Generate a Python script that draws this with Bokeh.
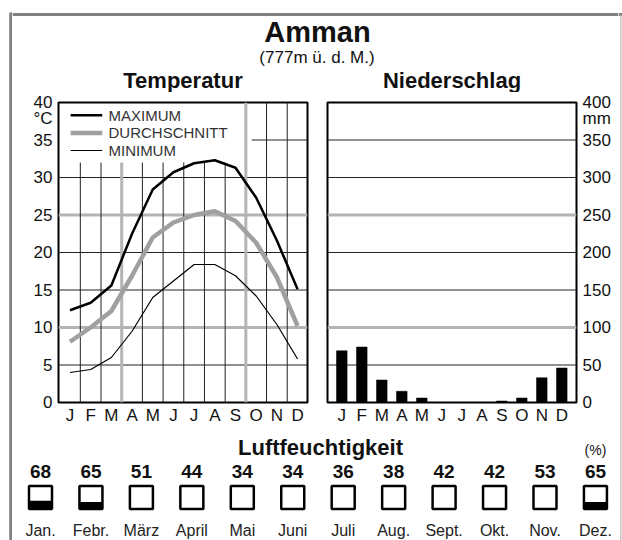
from bokeh.plotting import figure
from bokeh.layouts import row, column
from bokeh.models import Range1d, FixedTicker, LinearAxis
from bokeh.embed import file_html
from bokeh.resources import INLINE
from bokeh.core.properties import value

# ---------------- data ----------------
months_short = ["J", "F", "M", "A", "M", "J", "J", "A", "S", "O", "N", "D"]
months_long = ["Jan.", "Febr.", "März", "April", "Mai", "Juni", "Juli", "Aug.", "Sept.", "Okt.", "Nov.", "Dez."]
t_max = [12.3, 13.3, 15.6, 22.5, 28.4, 30.7, 31.9, 32.3, 31.3, 27.3, 21.6, 15.1]
t_avg = [8.1, 10.0, 12.2, 16.9, 22.0, 24.0, 25.0, 25.5, 24.2, 21.3, 16.7, 10.2]
t_min = [4.0, 4.4, 6.0, 9.5, 14.0, 16.2, 18.4, 18.4, 16.9, 14.2, 10.4, 5.8]
precip = [69, 74, 30, 15, 6, 0, 0, 0, 2, 6, 33, 46]
humidity = [68, 65, 51, 44, 34, 34, 36, 38, 42, 42, 53, 65]
temp_ticks = [0, 5, 10, 15, 20, 25, 30, 35, 40]
precip_ticks = [0, 50, 100, 150, 200, 250, 300, 350, 400]
legend_labels = ["MAXIMUM", "DURCHSCHNITT", "MINIMUM"]
temp_unit = "°C"
precip_unit = "mm"

FONT = "Liberation Sans"
INK = "#111111"
GRAY_FRAME = "#808080"
GRAY_GRID = "#b4b4b4"
AVG_COLOR = "#a0a0a0"
idx = list(range(12))


def make_fig(width, height, xr, yr, **kw):
    p = figure(width=width, height=height, x_range=xr, y_range=yr,
               output_backend="svg", toolbar_location=None, tools="",
               x_axis_location=None, y_axis_location=None, title=None, **kw)
    p.grid.visible = False
    p.background_fill_color = "white"
    p.border_fill_color = "white"
    return p


def style_axis(ax, size="17px"):
    ax.major_tick_line_color = None
    ax.minor_tick_line_color = None
    ax.major_tick_out = 0
    ax.major_tick_in = 0
    ax.minor_tick_out = 0
    ax.minor_tick_in = 0
    ax.axis_line_color = None
    ax.major_label_text_font = FONT
    ax.major_label_text_font_size = size
    ax.major_label_text_color = INK


# ---------------- frame strips ----------------
strip_l = make_fig(12, 540, Range1d(0, 12), Range1d(540, 0), min_border=0)
strip_l.outline_line_color = None
strip_l.quad(left=[9.3], right=[12], top=[12.4], bottom=[540], color=GRAY_FRAME)

strip_r = make_fig(4, 540, Range1d(618, 622), Range1d(540, 0), min_border=0)
strip_r.outline_line_color = None
strip_r.segment(x0=[618], x1=[622], y0=[13.9], y1=[13.9], line_color=GRAY_FRAME, line_width=3)
strip_r.segment(x0=[620.3], x1=[620.3], y0=[15], y1=[540], line_color="#c4c4c4", line_width=1.5)

# ---------------- header ----------------
HEAD_H = 92
header = make_fig(606, HEAD_H, Range1d(12, 618), Range1d(HEAD_H, 0), min_border=0)
header.outline_line_color = None
header.segment(x0=[12], x1=[618], y0=[13.9], y1=[13.9], line_color=GRAY_FRAME, line_width=3)
header.text(x=[317], y=[31.5], text=["Amman"], text_font=value(FONT), text_font_size="29px",
            text_font_style="bold", text_align="center", text_baseline="middle", text_color=INK)
header.text(x=[316.5], y=[57], text=["(777m ü. d. M.)"], text_font=value(FONT), text_font_size="17px",
            text_align="center", text_baseline="middle", text_color=INK)
header.text(x=[182.5, 451.5], y=[79.5, 79.5], text=["Temperatur", "Niederschlag"], text_font=value(FONT),
            text_font_size="22px", text_font_style="bold", text_align="center",
            text_baseline="middle", text_color=INK)

# ---------------- temperature ----------------
TOP_B = 102 - HEAD_H
pt = make_fig(304, TOP_B + 300 + 26, Range1d(-0.555, 11.48), Range1d(0, 40),
              min_border_left=46, min_border_right=9, min_border_top=TOP_B, min_border_bottom=26)
pt.outline_line_color = "black"
pt.outline_line_width = 2

for t in temp_ticks[1:-1]:
    gray = t in (10, 25)
    x0 = 8.78 if t == 35 else -0.555
    pt.segment(x0=[x0], x1=[11.48], y0=[t], y1=[t],
               line_color=GRAY_GRID if gray else "#222222", line_width=3 if gray else 1)
for i in range(11):
    b = i + 0.5
    gray = i in (2, 8)
    top = 40 if i >= 8 else 32
    pt.segment(x0=[b], x1=[b], y0=[0], y1=[top],
               line_color=GRAY_GRID if gray else "#222222", line_width=3 if gray else 1)

pt.line(idx, t_avg, line_color=AVG_COLOR, line_width=4.5, line_join="round")
pt.line(idx, t_max, line_color="black", line_width=2.5, line_join="round")
pt.line(idx, t_min, line_color="black", line_width=1.2, line_join="round")

leg_y = [38.3, 35.95, 33.6]
pt.segment(x0=[0.03] * 3, x1=[1.56] * 3, y0=leg_y, y1=leg_y,
           line_color=["black", AVG_COLOR, "black"], line_width=[2.5, 4.5, 1.2])
pt.text(x=[1.86] * 3, y=leg_y, text=legend_labels, text_font=value(FONT), text_font_size="15px",
        text_baseline="middle", text_align="left", text_color="#333333")

unit_pos_t = 37.85
yax = LinearAxis(ticker=FixedTicker(ticks=temp_ticks + [unit_pos_t]),
                 major_label_overrides={unit_pos_t: temp_unit},
                 major_label_standoff=6)
style_axis(yax)
pt.add_layout(yax, "left")
xax = LinearAxis(ticker=FixedTicker(ticks=idx),
                 major_label_overrides={i: m for i, m in enumerate(months_short)},
                 major_label_standoff=3)
style_axis(xax)
pt.add_layout(xax, "below")

# ---------------- precipitation ----------------
pp = make_fig(302, TOP_B + 300 + 26, Range1d(-0.715, 11.735), Range1d(0, 400),
              min_border_left=11, min_border_right=42, min_border_top=TOP_B, min_border_bottom=26)
pp.outline_line_color = "black"
pp.outline_line_width = 2
for v in precip_ticks[1:-1]:
    gray = v in (100, 250)
    pp.segment(x0=[-0.715], x1=[11.735], y0=[v], y1=[v],
               line_color=GRAY_GRID if gray else "#222222", line_width=3 if gray else 1)
pp.vbar(x=idx, top=precip, bottom=0, width=0.53, fill_color="black", line_color="black", line_width=0.5)

unit_pos_p = 378.5
rax = LinearAxis(ticker=FixedTicker(ticks=precip_ticks + [unit_pos_p]),
                 major_label_overrides={unit_pos_p: precip_unit},
                 major_label_standoff=6)
style_axis(rax)
pp.add_layout(rax, "right")
bax = LinearAxis(ticker=FixedTicker(ticks=idx),
                 major_label_overrides={i: m for i, m in enumerate(months_short)},
                 major_label_standoff=3)
style_axis(bax)
pp.add_layout(bax, "below")

# ---------------- humidity footer ----------------
pf = make_fig(606, 112, Range1d(-0.555, 11.457), Range1d(540, 428), min_border=0)
pf.outline_line_color = None
pf.text(x=[5.55], y=[447], text=["Luftfeuchtigkeit"], text_font=value(FONT), text_font_size="22px",
        text_font_style="bold", text_align="center", text_baseline="middle", text_color=INK)
pf.text(x=[11.0], y=[449], text=["(%)"], text_font=value(FONT), text_font_size="14px",
        text_align="center", text_baseline="middle", text_color=INK)
pf.text(x=idx, y=[470.5] * 12, text=[str(h) for h in humidity], text_font=value(FONT),
        text_font_size="19px", text_font_style="bold", text_align="center",
        text_baseline="middle", text_color=INK)
box_w = 23 / 50.45
pf.rect(x=idx, y=[497] * 12, width=box_w, height=23, fill_color="white", line_color=None)
hi = [i for i, h in enumerate(humidity) if h >= 60]
pf.vbar(x=hi, bottom=508.5, top=[508.5 - (humidity[i] - 50) / 50 * 23 for i in hi],
        width=box_w, fill_color="black", line_color=None)
pf.rect(x=idx, y=[497] * 12, width=box_w, height=23, fill_color=None,
        line_color="black", line_width=2.5)
pf.text(x=idx, y=[530] * 12, text=months_long, text_font=value(FONT), text_font_size="16px",
        text_align="center", text_baseline="middle", text_color="#222222")

layout = row(strip_l, column(header, row(pt, pp), pf), strip_r)

open("out.html", "w").write(file_html(layout, INLINE, "Amman"))
